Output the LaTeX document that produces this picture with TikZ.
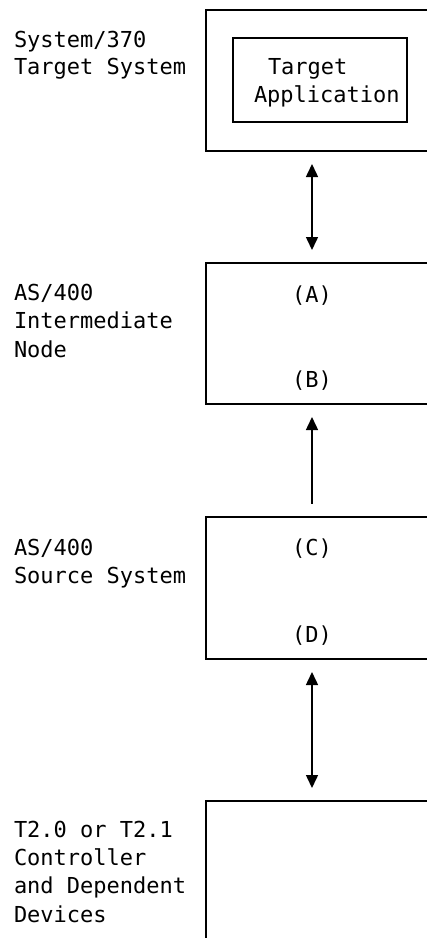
\documentclass[tikz,border=0pt]{standalone}
\usepackage{fontspec}
\setmonofont{DejaVu Sans Mono}
\usetikzlibrary{arrows.meta}
\begin{document}
\begin{tikzpicture}[x=1pt,y=-1pt,
  every node/.style={inner sep=0pt, outer sep=0pt},
  sysbox/.style={draw, line width=1.2pt, anchor=north west, minimum width=260pt},
  lbl/.style={anchor=base west, font=\fontsize{22}{28}\selectfont\ttfamily},
  mid/.style={anchor=base, font=\fontsize{22}{28}\selectfont\ttfamily},
  link/.style={line width=1.5pt, shorten >=13pt, shorten <=13pt},
  mytip/.tip={Triangle[width=12pt,length=13pt]}]
\useasboundingbox (0,0) rectangle (427,938);
% boxes
\node[sysbox, minimum height=141pt] (b1) at (206,10) {};
\node[draw, line width=1.2pt, anchor=north west, minimum width=174pt, minimum height=84pt] (app) at (233,38) {};
\node[sysbox, minimum height=141pt] (b2) at (206,263) {};
\node[sysbox, minimum height=142pt] (b3) at (206,517) {};
\node[sysbox, minimum height=200pt] (b4) at (206,801) {};
% inner texts
\node[lbl] (t1) at (268,74) {Target};
\node[lbl] (t2) at (254,102) {Application};
\node[mid] (A) at (312,302) {(A)};
\node[mid] (B) at (312,387) {(B)};
\node[mid] (C) at (312,555) {(C)};
\node[mid] (D) at (312,642) {(D)};
% left labels
\node[lbl] (l1a) at (14,47) {System/370};
\node[lbl] (l1b) at (14,74) {Target System};
\node[lbl] (l2a) at (14,300) {AS/400};
\node[lbl] (l2b) at (14,328) {Intermediate};
\node[lbl] (l2c) at (14,357) {Node};
\node[lbl] (l3a) at (14,555) {AS/400};
\node[lbl] (l3b) at (14,583) {Source System};
\node[lbl] (l4a) at (14,837) {T2.0 or T2.1};
\node[lbl] (l4b) at (14,865) {Controller};
\node[lbl] (l4c) at (14,893) {and Dependent};
\node[lbl] (l4d) at (14,922) {Devices};
% connectors
\coordinate (ax) at (312,0);
\draw[link, mytip-mytip] (b1.south -| ax) -- (b2.north -| ax);
\draw[link, mytip-] (b2.south -| ax) -- (b3.north -| ax);
\draw[link, mytip-mytip] (b3.south -| ax) -- (b4.north -| ax);
\end{tikzpicture}
\end{document}
